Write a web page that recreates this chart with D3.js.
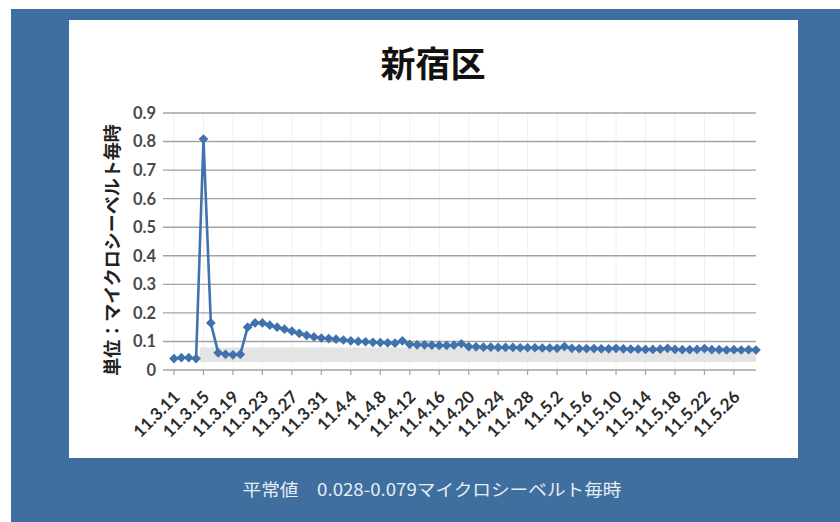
<!DOCTYPE html>
<html><head><meta charset="utf-8">
<script src="https://cdn.jsdelivr.net/npm/d3@7"></script>
<style>html,body{margin:0;padding:0;background:#fff;}svg{display:block;}</style>
</head><body>
<svg id="c" width="840" height="522"></svg>
<script>
const title = "新宿区";
const yTitle = "単位：マイクロシーベルト毎時";
const footer = "平常値　0.028-0.079マイクロシーベルト毎時";
const dates = [
 "11.3.11","11.3.12","11.3.13","11.3.14","11.3.15","11.3.16","11.3.17","11.3.18","11.3.19","11.3.20",
 "11.3.21","11.3.22","11.3.23","11.3.24","11.3.25","11.3.26","11.3.27","11.3.28","11.3.29","11.3.30","11.3.31",
 "11.4.1","11.4.2","11.4.3","11.4.4","11.4.5","11.4.6","11.4.7","11.4.8","11.4.9","11.4.10",
 "11.4.11","11.4.12","11.4.13","11.4.14","11.4.15","11.4.16","11.4.17","11.4.18","11.4.19","11.4.20",
 "11.4.21","11.4.22","11.4.23","11.4.24","11.4.25","11.4.26","11.4.27","11.4.28","11.4.29","11.4.30",
 "11.5.1","11.5.2","11.5.3","11.5.4","11.5.5","11.5.6","11.5.7","11.5.8","11.5.9","11.5.10",
 "11.5.11","11.5.12","11.5.13","11.5.14","11.5.15","11.5.16","11.5.17","11.5.18","11.5.19","11.5.20",
 "11.5.21","11.5.22","11.5.23","11.5.24","11.5.25","11.5.26","11.5.27","11.5.28","11.5.29"];
const values = [
 0.040,0.043,0.043,0.040,0.809,0.165,0.060,0.055,0.053,0.055,
 0.150,0.165,0.165,0.157,0.150,0.143,0.136,0.128,0.121,0.116,0.112,
 0.110,0.108,0.105,0.102,0.100,0.099,0.097,0.096,0.095,0.094,
 0.102,0.090,0.088,0.088,0.087,0.086,0.086,0.087,0.092,0.082,
 0.081,0.080,0.080,0.079,0.079,0.079,0.078,0.078,0.078,0.077,
 0.077,0.076,0.082,0.076,0.075,0.075,0.075,0.074,0.074,0.076,
 0.074,0.073,0.073,0.072,0.072,0.073,0.076,0.072,0.071,0.071,
 0.072,0.075,0.071,0.071,0.070,0.071,0.070,0.071,0.070];
const yTicks = [0,0.1,0.2,0.3,0.4,0.5,0.6,0.7,0.8,0.9];
const yTickLabels = ["0","0.1","0.2","0.3","0.4","0.5","0.6","0.7","0.8","0.9"];
const normalRange = [0.028, 0.079];
const bandStart = "11.3.15";
const tickEvery = 4;

const svg = d3.select("#c");
// frame
svg.append("rect").attr("x",11).attr("y",9).attr("width",829).attr("height",513).attr("fill","#3f6f9f");
svg.append("rect").attr("x",69).attr("y",20).attr("width",729).attr("height",438).attr("fill","#ffffff");

const plotL = 168, plotR = 756;
const x = d3.scalePoint().domain(dates).range([174, 756]);
const y = d3.scaleLinear().domain([0, 0.9]).range([370, 113]);
const step = x.step();
const tickDates = dates.filter((d,i)=> i % tickEvery === 0);

// faint vertical gridlines
svg.append("g").selectAll("line").data(tickDates).join("line")
  .attr("x1", d=>x(d)).attr("x2", d=>x(d)).attr("y1", y(0.9)).attr("y2", y(0))
  .attr("stroke","#f0f0f0").attr("stroke-width",1);

// normal band
const bandX0 = x(bandStart) - step/2;
svg.append("rect").attr("x", bandX0).attr("y", y(normalRange[1]))
  .attr("width", plotR - bandX0).attr("height", y(normalRange[0]) - y(normalRange[1]))
  .attr("fill","#e4e4e4");

// horizontal gridlines + y ticks
const gy = svg.append("g");
gy.selectAll("line.g").data(yTicks).join("line").attr("class","g")
  .attr("x1", plotL-5).attr("x2", plotR).attr("y1", d=>y(d)).attr("y2", d=>y(d))
  .attr("stroke","#a3a3a3").attr("stroke-width",1.4);
gy.selectAll("text").data(yTicks).join("text")
  .attr("x", 156).attr("y", d=>y(d)).attr("dy","0.36em")
  .attr("text-anchor","end").attr("font-family","Lato, 'Liberation Sans', sans-serif")
  .attr("font-weight","bold").attr("font-size",16.5).attr("fill","#4a4a4a")
  .text((d,i)=>yTickLabels[i]);

// x ticks
const gx = svg.append("g");
gx.selectAll("line").data(tickDates).join("line")
  .attr("x1", d=>x(d)).attr("x2", d=>x(d)).attr("y1", y(0)).attr("y2", y(0)+5)
  .attr("stroke","#a3a3a3").attr("stroke-width",1.2);
gx.selectAll("text").data(tickDates).join("text")
  .attr("transform", d=>`translate(${x(d)+7},${y(0)+28}) rotate(-45)`)
  .attr("text-anchor","end").attr("font-family","Lato, 'Liberation Sans', sans-serif")
  .attr("font-weight","bold").attr("font-size",17).attr("fill","#2a2a2a")
  .text(d=>d);

// line
const line = d3.line().x((d,i)=>x(dates[i])).y(d=>y(d));
svg.append("path").datum(values).attr("d", line)
  .attr("fill","none").attr("stroke","#4072ad").attr("stroke-width",2.6).attr("stroke-linejoin","round");
svg.append("g").selectAll("path").data(values).join("path")
  .attr("d", d3.symbol().type(d3.symbolDiamond2).size(60))
  .attr("transform", (d,i)=>`translate(${x(dates[i])},${y(d)})`)
  .attr("fill","#4072ad");

// titles
svg.append("text").attr("x",433).attr("y",65).attr("dy","0.35em").attr("text-anchor","middle")
  .attr("font-family","'Noto Sans CJK JP', sans-serif").attr("font-weight","bold")
  .attr("font-size",35).attr("fill","#111").text(title);
svg.append("text").attr("transform","translate(113,250) rotate(-90)").attr("dy","0.35em")
  .attr("text-anchor","middle").attr("font-family","'Noto Sans CJK JP', sans-serif")
  .attr("font-weight","bold").attr("font-size",18).attr("fill","#222").text(yTitle);
svg.append("text").attr("x",432).attr("y",490).attr("dy","0.35em").attr("text-anchor","middle")
  .attr("font-family","'Noto Sans CJK JP', sans-serif").attr("font-size",17)
  .attr("textLength",379).attr("lengthAdjust","spacingAndGlyphs")
  .attr("fill","#e6edf5").text(footer);
</script>
</body></html>
